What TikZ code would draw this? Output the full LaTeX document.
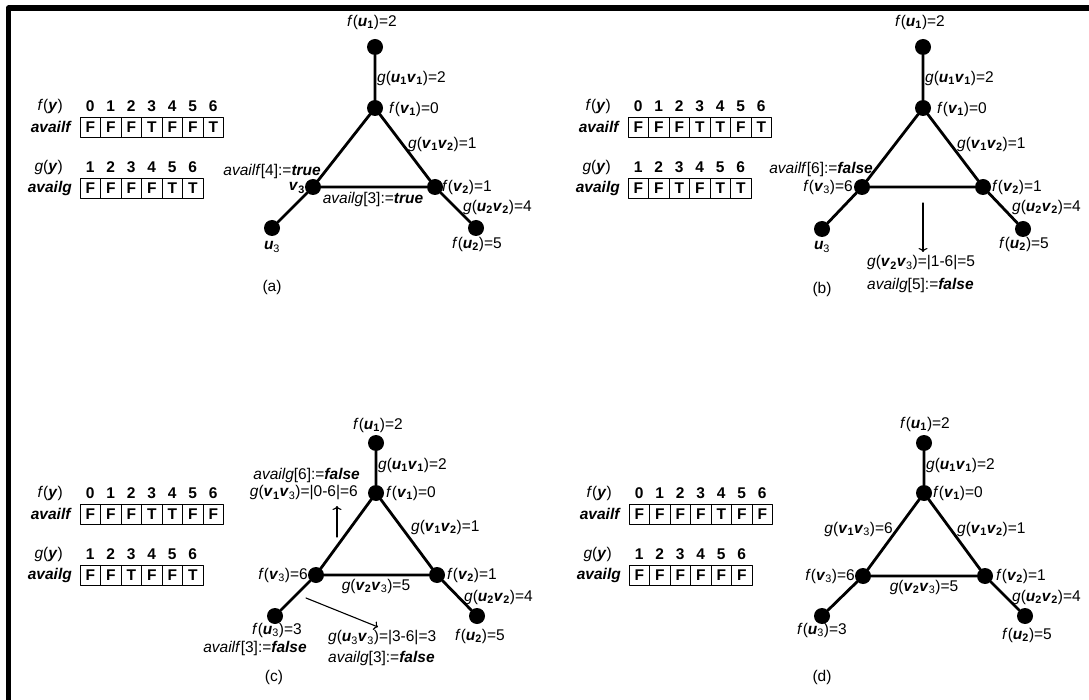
\documentclass[tikz,border=0pt]{standalone}
\usepackage{fontspec}
\setmainfont{Liberation Sans}
\usetikzlibrary{arrows.meta}
\tikzset{
  every picture/.style={line join=round, line cap=round, >={To[length=4pt,width=9pt]}},
  vertex/.style={circle, fill=black, inner sep=0pt, minimum size=16pt},
  edge/.style={line width=2.8pt},
  lbl/.style={inner sep=0pt, font=\fontsize{15.5}{18}\selectfont},
  idx/.style={inner sep=0pt, font=\fontsize{15.5}{18}\selectfont\bfseries},
  cell/.style={draw, line width=0.8pt, minimum width=20.5pt, minimum height=20pt,
    inner sep=0pt, font=\fontsize{15.5}{18}\selectfont\bfseries},
  note/.style={->, line width=1.1pt},
}
% vertex names, bold index / plain index
\newcommand{\vx}[2]{\textbf{\textit{#1}\textsubscript{#2}}}
\newcommand{\vxr}[2]{\textbf{\textit{#1}}\textsubscript{#2}}
\newcommand{\fof}[1]{\textit{f}(#1)}
\newcommand{\gof}[1]{\textit{g}(#1)}
\newcommand{\tval}{\textbf{\textit{true}}}
\newcommand{\fval}{\textbf{\textit{false}}}
% the two boolean tables availf / availg
\newcommand{\availtables}[4]{%
  \begin{scope}[shift={(#1)}, name prefix=#2-]
    \node[lbl, anchor=east] (fy) at (-17,-11) {\textit{f}(\textbf{\textit{y}})};
    \node[lbl, anchor=east] (af) at (-8,10) {\textbf{\textit{availf}}};
    \foreach \v [count=\i from 0] in {#3} {
      \node[idx] (fi\i) at (10.25+20.5*\i,-11) {\i};
      \node[cell] (fc\i) at (10.25+20.5*\i,10) {\v};
    }
    \node[lbl, anchor=east] (gy) at (-17,50) {\textit{g}(\textbf{\textit{y}})};
    \node[lbl, anchor=east] (ag) at (-8,71) {\textbf{\textit{availg}}};
    \foreach \v [count=\i] in {#4} {
      \node[idx] (gi\i) at (20.5*\i-10.25,50) {\i};
      \node[cell] (gc\i) at (20.5*\i-10.25,71) {\v};
    }
  \end{scope}}

\begin{document}
\begin{tikzpicture}[x=1pt, y=-1pt]
\useasboundingbox (0,0) rectangle (1089,700);
\fill[white] (0,0) rectangle (1089,700);
\draw[line width=5.5pt, line cap=butt] (8.5,700) -- (8.5,8) -- (1089,8);

% (a)
\availtables{80,117}{a}{F,F,F,T,F,F,T}{F,F,F,F,T,T}
\node[vertex] (a-u1) at (375,47) {};
\node[vertex] (a-v1) at (375,108) {};
\node[vertex] (a-v2) at (435,187) {};
\node[vertex] (a-v3) at (313,187) {};
\node[vertex] (a-u2) at (476,228) {};
\node[vertex] (a-u3) at (272,228) {};
\draw[edge] (a-u1) -- (a-v1) -- (a-v2) -- (a-v3) -- (a-v1)
  (a-v2) -- (a-u2) (a-v3) -- (a-u3);
\node[lbl] (a-fu1) at (372,22) {\fof{\vx{u}{1}}=2};
\node[lbl, anchor=west] (a-gu1v1) at (377,78) {\gof{\vx{u}{1}\vx{v}{1}}=2};
\node[lbl, anchor=west] (a-fv1) at (389,109) {\fof{\vx{v}{1}}=0};
\node[lbl, anchor=west] (a-gv1v2) at (408,144) {\gof{\vx{v}{1}\vx{v}{2}}=1};
\node[lbl, anchor=west] (a-fv2) at (442,187) {\fof{\vx{v}{2}}=1};
\node[lbl, anchor=west] (a-gu2v2) at (463,207) {\gof{\vx{u}{2}\vx{v}{2}}=4};
\node[lbl] (a-fu2) at (477,244) {\fof{\vx{u}{2}}=5};
\node[lbl, anchor=east] (a-v3l) at (305,188) {\vx{v}{3}};
\node[lbl, anchor=east] (a-af4) at (321,171) {\textit{availf}[4]:=\tval};
\node[lbl] (a-ag3) at (373,199) {\textit{availg}[3]:=\tval};
\node[lbl] (a-u3l) at (272,247) {\vxr{u}{3}};
\node[lbl] (a-cap) at (272,287) {(a)};

% (b)
\availtables{628,117}{b}{F,F,F,T,T,F,T}{F,F,T,F,T,T}
\node[vertex] (b-u1) at (923,47) {};
\node[vertex] (b-v1) at (923,108) {};
\node[vertex] (b-v2) at (983,187) {};
\node[vertex] (b-v3) at (862,187) {};
\node[vertex] (b-u2) at (1023,229) {};
\node[vertex] (b-u3) at (822,229) {};
\draw[edge] (b-u1) -- (b-v1) -- (b-v2) -- (b-v3) -- (b-v1)
  (b-v2) -- (b-u2) (b-v3) -- (b-u3);
\node[lbl] (b-fu1) at (920,22) {\fof{\vx{u}{1}}=2};
\node[lbl, anchor=west] (b-gu1v1) at (925,78) {\gof{\vx{u}{1}\vx{v}{1}}=2};
\node[lbl, anchor=west] (b-fv1) at (937,109) {\fof{\vx{v}{1}}=0};
\node[lbl, anchor=west] (b-gv1v2) at (957,144) {\gof{\vx{v}{1}\vx{v}{2}}=1};
\node[lbl, anchor=west] (b-fv2) at (992,187) {\fof{\vx{v}{2}}=1};
\node[lbl, anchor=west] (b-gu2v2) at (1012,207) {\gof{\vx{u}{2}\vx{v}{2}}=4};
\node[lbl] (b-fu2) at (1024,244) {\fof{\vx{u}{2}}=5};
\node[lbl, anchor=east] (b-af6) at (873,169) {\textit{availf}[6]:=\fval};
\node[lbl, anchor=east] (b-fv3) at (853,187) {\fof{\vxr{v}{3}}=6};
\node[lbl] (b-u3l) at (822,247) {\vxr{u}{3}};
\node[lbl, anchor=west] (b-gv2v3) at (867,263) {\gof{\vx{v}{2}\vxr{v}{3}}=|1-6|=5};
\node[lbl, anchor=west] (b-ag5) at (867,285) {\textit{availg}[5]:=\fval};
\node[lbl] (b-cap) at (822,289) {(b)};
\coordinate (b-tail) at (923,203);
\coordinate (b-head) at (923,252);
\draw[note] (b-tail) -- (b-head);

% (c)
\availtables{80,504}{c}{F,F,F,T,T,F,F}{F,F,T,F,F,T}
\node[vertex] (c-u1) at (376,443) {};
\node[vertex] (c-v1) at (376,493) {};
\node[vertex] (c-v2) at (437,575) {};
\node[vertex] (c-v3) at (316,575) {};
\node[vertex] (c-u2) at (477,616) {};
\node[vertex] (c-u3) at (275,616) {};
\draw[edge] (c-u1) -- (c-v1) -- (c-v2) -- (c-v3) -- (c-v1)
  (c-v2) -- (c-u2) (c-v3) -- (c-u3);
\node[lbl] (c-fu1) at (378,425) {\fof{\vx{u}{1}}=2};
\node[lbl, anchor=west] (c-gu1v1) at (378,465) {\gof{\vx{u}{1}\vx{v}{1}}=2};
\node[lbl, anchor=west] (c-fv1) at (386,493) {\fof{\vx{v}{1}}=0};
\node[lbl, anchor=west] (c-gv1v2) at (411,527) {\gof{\vx{v}{1}\vx{v}{2}}=1};
\node[lbl, anchor=west] (c-fv2) at (447,575) {\fof{\vx{v}{2}}=1};
\node[lbl, anchor=west] (c-gu2v2) at (464,597) {\gof{\vx{u}{2}\vx{v}{2}}=4};
\node[lbl] (c-fu2) at (480,636) {\fof{\vx{u}{2}}=5};
\node[lbl] (c-gv2v3) at (376,586) {\gof{\vx{v}{2}\vxr{v}{3}}=5};
\node[lbl, anchor=east] (c-fv3) at (308,575) {\fof{\vxr{v}{3}}=6};
\node[lbl] (c-fu3) at (277,630) {\fof{\vxr{u}{3}}=3};
\node[lbl] (c-af3) at (255,648) {\textit{availf}[3]:=\fval};
\node[lbl, anchor=west] (c-gu3v3) at (328,638) {\gof{\vxr{u}{3}\vxr{v}{3}}=|3-6|=3};
\node[lbl, anchor=west] (c-ag3) at (328,658) {\textit{availg}[3]:=\fval};
\node[lbl, anchor=east] (c-ag6) at (360,475) {\textit{availg}[6]:=\fval};
\node[lbl, anchor=east] (c-gv1v3) at (358,493) {\gof{\vx{v}{1}\vxr{v}{3}}=|0-6|=6};
\node[lbl] (c-cap) at (274,677) {(c)};
\coordinate (c-uptail) at (337,537);
\coordinate (c-uphead) at (337,506);
\coordinate (c-dgtail) at (306,598);
\coordinate (c-dghead) at (378,627);
\draw[note] (c-uptail) -- (c-uphead);
\draw[note] (c-dgtail) -- (c-dghead);

% (d)
\availtables{629,504}{d}{F,F,F,F,T,F,F}{F,F,F,F,F,F}
\node[vertex] (d-u1) at (924,443) {};
\node[vertex] (d-v1) at (924,493) {};
\node[vertex] (d-v2) at (985,576) {};
\node[vertex] (d-v3) at (863,576) {};
\node[vertex] (d-u2) at (1025,616) {};
\node[vertex] (d-u3) at (822,616) {};
\draw[edge] (d-u1) -- (d-v1) -- (d-v2) -- (d-v3) -- (d-v1)
  (d-v2) -- (d-u2) (d-v3) -- (d-u3);
\node[lbl] (d-fu1) at (925,424) {\fof{\vx{u}{1}}=2};
\node[lbl, anchor=west] (d-gu1v1) at (926,465) {\gof{\vx{u}{1}\vx{v}{1}}=2};
\node[lbl, anchor=west] (d-fv1) at (933,493) {\fof{\vx{v}{1}}=0};
\node[lbl, anchor=east] (d-gv1v3) at (893,529) {\gof{\vx{v}{1}\vxr{v}{3}}=6};
\node[lbl, anchor=west] (d-gv1v2) at (957,529) {\gof{\vx{v}{1}\vx{v}{2}}=1};
\node[lbl, anchor=east] (d-fv3) at (855,576) {\fof{\vxr{v}{3}}=6};
\node[lbl, anchor=west] (d-fv2) at (996,576) {\fof{\vx{v}{2}}=1};
\node[lbl] (d-gv2v3) at (924,587) {\gof{\vx{v}{2}\vxr{v}{3}}=5};
\node[lbl, anchor=west] (d-gu2v2) at (1012,597) {\gof{\vx{u}{2}\vx{v}{2}}=4};
\node[lbl] (d-fu3) at (822,630) {\fof{\vxr{u}{3}}=3};
\node[lbl] (d-fu2) at (1027,635) {\fof{\vx{u}{2}}=5};
\node[lbl] (d-cap) at (822,677) {(d)};
\end{tikzpicture}
\end{document}
